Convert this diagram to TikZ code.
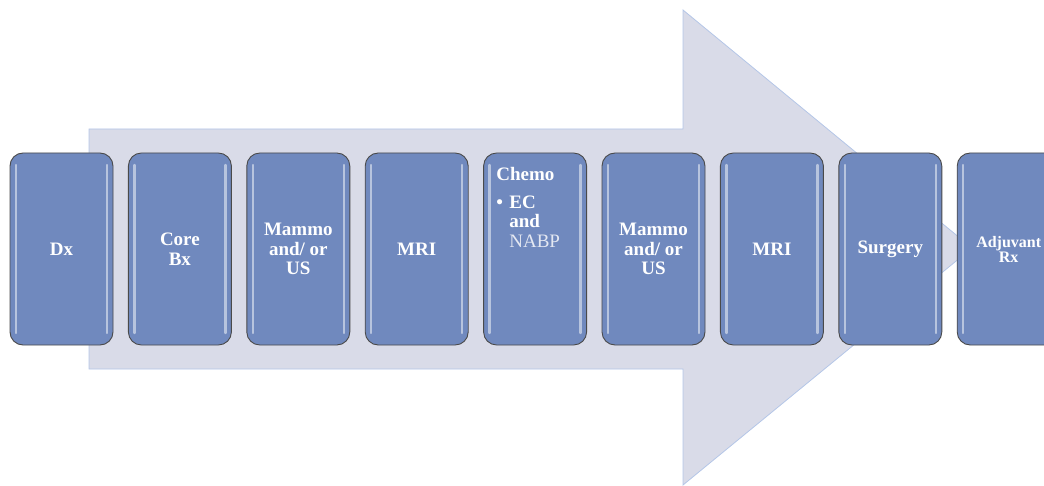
\documentclass[tikz,border=0pt]{standalone}
\usepackage{fontspec}
\setmainfont{Liberation Serif}
\usetikzlibrary{positioning}
\definecolor{fondoFlecha}{HTML}{D9DBE8}
\definecolor{bordeFlecha}{HTML}{B4C6E7}
\definecolor{azulPaso}{HTML}{7089BE}
\definecolor{bordePaso}{HTML}{4A4A4A}
\definecolor{textoSuave}{HTML}{E4E8F2}

\begin{document}
\begin{tikzpicture}[x=1pt, y=-1pt, node distance=0pt and 14.5pt,
        font=\bfseries\fontsize{19}{19.5}\selectfont,
        paso/.style={draw=bordePaso, line width=0.9pt, fill=azulPaso, rounded corners=13pt,
            minimum width=103pt, minimum height=192pt, inner sep=2pt, text=white, align=center,
            path picture={
                \draw[white, opacity=.5, line width=2.4pt, line cap=round]
                    ([xshift=6pt,yshift=-12pt]path picture bounding box.north west) --
                    ([xshift=6pt,yshift=12pt]path picture bounding box.south west);
                \draw[white, opacity=.5, line width=2.4pt, line cap=round]
                    ([xshift=-6pt,yshift=-12pt]path picture bounding box.north east) --
                    ([xshift=-6pt,yshift=12pt]path picture bounding box.south east);}},
        flecha/.style={fill=fondoFlecha, draw=bordeFlecha, line width=0.8pt}]
        \useasboundingbox (0,0) rectangle (1044,486);
        % flecha de fondo
        \draw[flecha] (89,129) -- (683,129) -- (683,10) -- (972,248) -- (683,485)
            -- (683,369) -- (89,369) -- cycle;
        % pasos
        \node[paso] (dx) at (61.5,249) {Dx};
        \node[paso, right=of dx] (core) {Core\\Bx};
        \node[paso, right=of core] (mammoA) {Mammo\\and/ or\\US};
        \node[paso, right=of mammoA] (mriA) {MRI};
        \node[paso, right=of mriA, label={[anchor=north west, text=white, align=left,
            inner sep=0pt, xshift=13pt, yshift=-15pt]north west:{Chemo\\[8pt]
            \makebox[13pt][l]{\textbullet}EC\\
            \hspace*{13pt}and\\
            \hspace*{13pt}{\mdseries\color{textoSuave}NABP}}}] (chemo) {};
        \node[paso, right=of chemo] (mammoB) {Mammo\\and/ or\\US};
        \node[paso, right=of mammoB] (mriB) {MRI};
        \node[paso, right=of mriB] (surg) {Surgery};
        \node[paso, right=of surg, font=\bfseries\fontsize{16}{15}\selectfont] (adj) {Adjuvant\\Rx};
    \end{tikzpicture}
\end{document}
